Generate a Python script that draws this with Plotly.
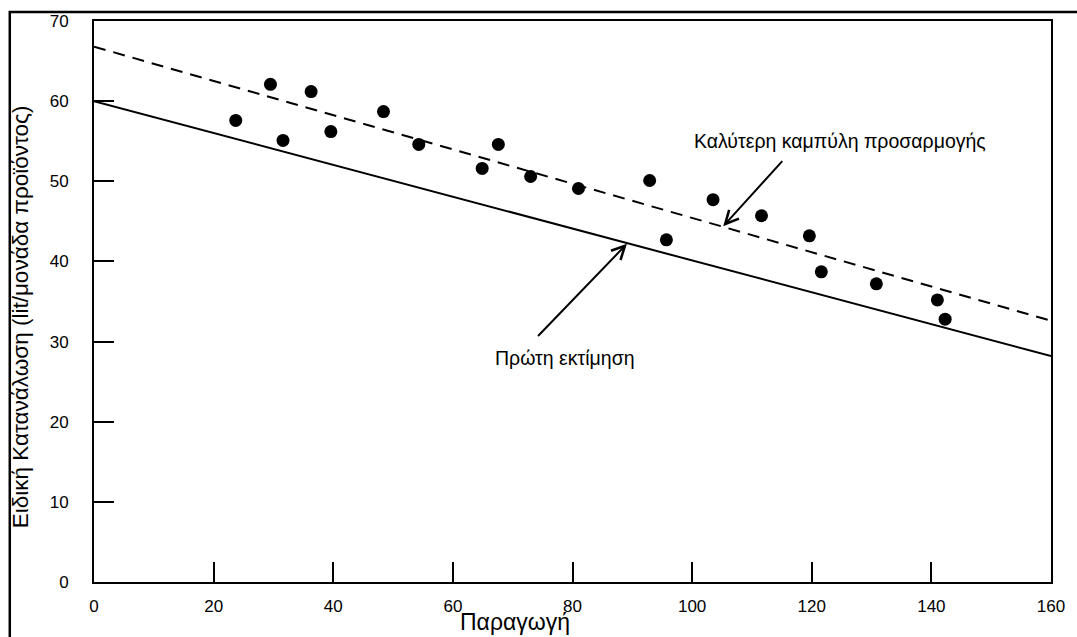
import plotly.graph_objects as go

# Data
production = [23.7, 29.5, 31.6, 36.3, 39.6, 48.4, 54.3, 64.9, 67.6, 73.0,
              81.0, 92.9, 95.7, 103.5, 111.6, 119.6, 121.6, 130.8, 141.0, 142.3]
consumption = [57.6, 62.1, 55.1, 61.2, 56.2, 58.7, 54.6, 51.6, 54.6, 50.6,
               49.1, 50.1, 42.7, 47.7, 45.7, 43.2, 38.7, 37.2, 35.2, 32.8]

line_x = [0, 160]
first_estimate_y = [60.0, 28.2]
best_fit_y = [66.8, 32.6]

x_ticks = [0, 20, 40, 60, 80, 100, 120, 140, 160]
y_ticks = [0, 10, 20, 30, 40, 50, 60, 70]

label_first = "Πρώτη εκτίμηση"
label_best = "Καλύτερη καμπύλη προσαρμογής"
x_title = "Παραγωγή"
y_title = "Ειδική Κατανάλωση (lit/μονάδα προϊόντος)"

FONT = "Liberation Sans, Arial, sans-serif"

fig = go.Figure()
fig.add_trace(go.Scatter(x=line_x, y=first_estimate_y, mode="lines",
                         line=dict(color="black", width=2), showlegend=False))
fig.add_trace(go.Scatter(x=line_x, y=best_fit_y, mode="lines",
                         line=dict(color="black", width=2, dash="12px,8px"),
                         showlegend=False))
fig.add_trace(go.Scatter(x=production, y=consumption, mode="markers",
                         marker=dict(color="black", size=13), showlegend=False))

# Arrows
fig.add_annotation(x=89.1, y=42.2, ax=74.0, ay=30.5, xref="x", yref="y",
                   axref="x", ayref="y", text="", showarrow=True,
                   arrowhead=5, arrowwidth=2, arrowsize=1.3, arrowcolor="black")
fig.add_annotation(x=105.2, y=44.4, ax=115.3, ay=52.7, xref="x", yref="y",
                   axref="x", ayref="y", text="", showarrow=True,
                   arrowhead=5, arrowwidth=2, arrowsize=1.3, arrowcolor="black")
# Labels
fig.add_annotation(x=124.7, y=55.0, xref="x", yref="y", text=label_best,
                   xanchor="center", yanchor="middle",
                   showarrow=False, font=dict(family=FONT, size=19.5, color="black"))
fig.add_annotation(x=78.8, y=28.0, xref="x", yref="y", text=label_first,
                   xanchor="center", yanchor="middle",
                   showarrow=False, font=dict(family=FONT, size=19.5, color="black"))
# Axis titles
fig.add_annotation(x=0.44, y=-0.0709, xref="paper", yref="paper", text=x_title,
                   xanchor="center", yanchor="middle",
                   showarrow=False, font=dict(family=FONT, size=23, color="black"))
fig.add_annotation(x=-0.0766, y=0.473, xref="paper", yref="paper", text=y_title,
                   xanchor="center", yanchor="middle",
                   textangle=-90, showarrow=False,
                   font=dict(family=FONT, size=22.5, color="black"))

# Outer border (partially cut)
fig.add_shape(type="path", xref="paper", yref="paper",
              path="M -0.088,-0.2 L -0.088,1.016 L 1.05,1.016",
              line=dict(color="black", width=2.5))

fig.update_xaxes(range=[0, 160], tickvals=x_ticks, ticks="inside", ticklen=20,
                 tickwidth=2, tickcolor="black", showline=True, linewidth=2,
                 linecolor="black", mirror=True, showgrid=False, zeroline=False,
                 ticklabelstandoff=8,
                 tickfont=dict(family=FONT, size=17, color="black"))
fig.update_yaxes(range=[0, 70], tickvals=y_ticks, ticks="inside", ticklen=20,
                 tickwidth=2, tickcolor="black", showline=True, linewidth=2,
                 linecolor="black", mirror=True, showgrid=False, zeroline=False,
                 ticklabelstandoff=20,
                 tickfont=dict(family=FONT, size=17, color="black"))

fig.update_layout(width=1077, height=637,
                  margin=dict(l=94, r=17, t=18, b=55),
                  paper_bgcolor="white", plot_bgcolor="white",
                  font=dict(family=FONT, color="black"))

fig.write_html("out.html", config={"displayModeBar": False},
               post_script="document.body.style.margin='0';document.body.style.overflow='hidden';")
